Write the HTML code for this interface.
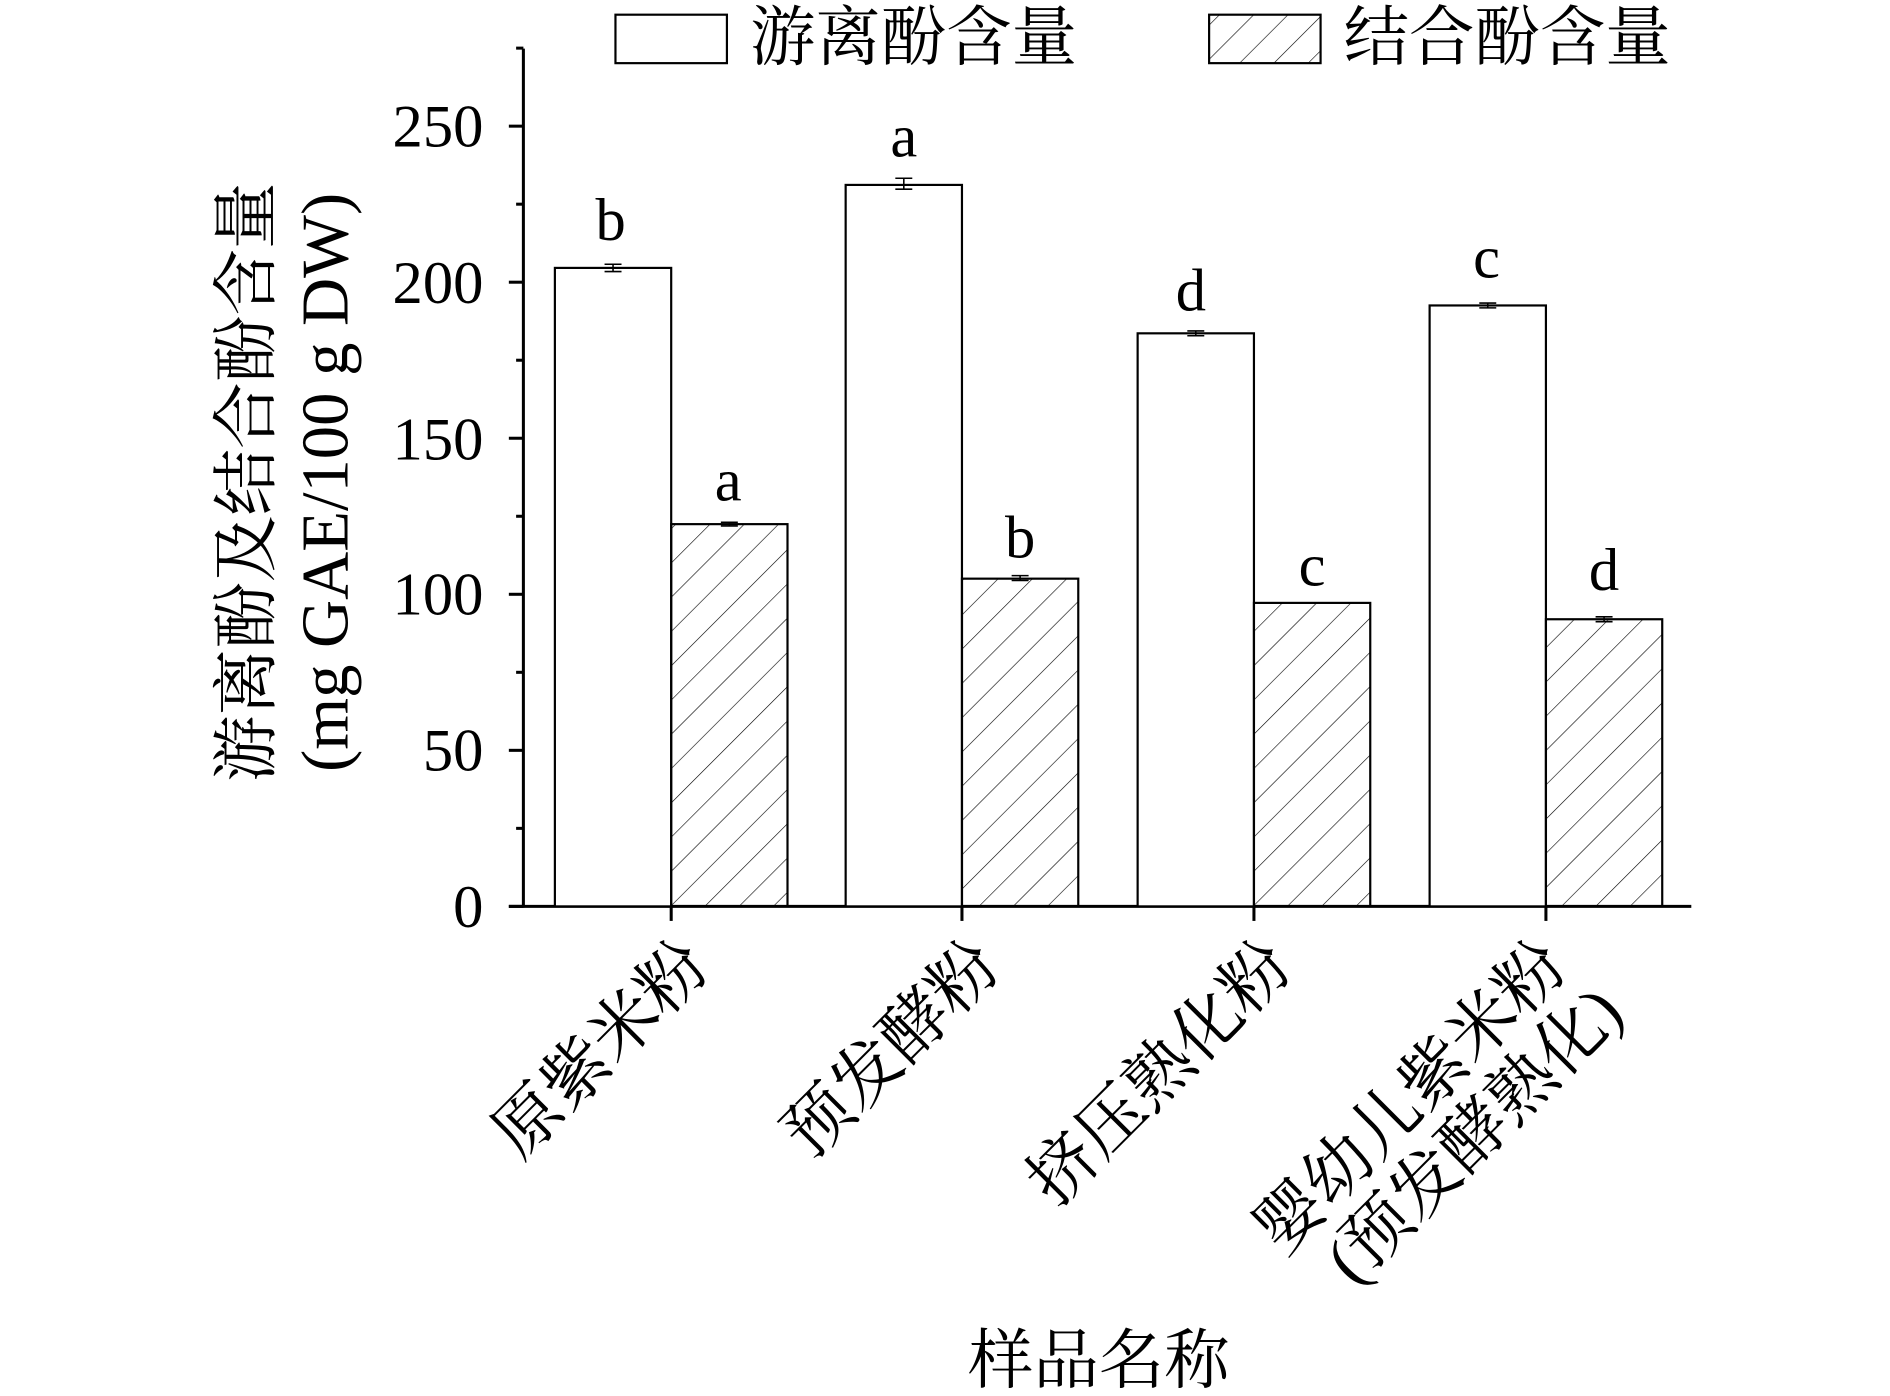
<!DOCTYPE html>
<html><head><meta charset="utf-8"><style>html,body{margin:0;padding:0;background:#fff}svg{display:block}</style></head>
<body>
<svg width="1890" height="1396" viewBox="0 0 1560 1152" xmlns="http://www.w3.org/2000/svg" font-family="Liberation Serif, Noto Serif CJK SC, serif">
<defs>
<pattern id="h" patternUnits="userSpaceOnUse" width="20" height="20" patternTransform="rotate(45)">
<line x1="0" y1="0" x2="0" y2="20" stroke="#000" stroke-width="1"/>
</pattern>
</defs>
<rect width="1560" height="1152" fill="#fff"/>
<g stroke="#000" stroke-width="2.5" fill="none">
<line x1="432" y1="40" x2="432" y2="749"/>
<line x1="420" y1="748" x2="1396" y2="748"/>
<line x1="420" y1="748" x2="432" y2="748"/>
<line x1="420" y1="619.2" x2="432" y2="619.2"/>
<line x1="420" y1="490.4" x2="432" y2="490.4"/>
<line x1="420" y1="361.6" x2="432" y2="361.6"/>
<line x1="420" y1="232.8" x2="432" y2="232.8"/>
<line x1="420" y1="104" x2="432" y2="104"/>
<line x1="426" y1="683.6" x2="432" y2="683.6"/>
<line x1="426" y1="554.8" x2="432" y2="554.8"/>
<line x1="426" y1="426" x2="432" y2="426"/>
<line x1="426" y1="297.2" x2="432" y2="297.2"/>
<line x1="426" y1="168.4" x2="432" y2="168.4"/>
<line x1="426" y1="39.6" x2="432" y2="39.6"/>
<line x1="554" y1="748" x2="554" y2="760"/>
<line x1="794" y1="748" x2="794" y2="760"/>
<line x1="1035" y1="748" x2="1035" y2="760"/>
<line x1="1276" y1="748" x2="1276" y2="760"/>
</g>
<g font-size="50" text-anchor="end">
<text x="399" y="765">0</text>
<text x="399" y="636">50</text>
<text x="399" y="507">100</text>
<text x="399" y="379">150</text>
<text x="399" y="250">200</text>
<text x="399" y="121">250</text>
</g>
<g stroke="#000" stroke-width="1.8">
<rect x="458" y="221" width="96" height="527" fill="#fff"/>
<rect x="554" y="432.5" width="96" height="315.5" fill="url(#h)"/>
<rect x="698" y="152.5" width="96" height="595.5" fill="#fff"/>
<rect x="794" y="477.5" width="96" height="270.5" fill="url(#h)"/>
<rect x="939" y="275" width="96" height="473" fill="#fff"/>
<rect x="1035" y="497.5" width="96" height="250.5" fill="url(#h)"/>
<rect x="1180" y="252" width="96" height="496" fill="#fff"/>
<rect x="1276" y="511" width="96" height="237" fill="url(#h)"/>
</g>
<g stroke="#000" stroke-width="1.3">
<path d="M506 218v6M499 218h14M499 224h14"/>
<path d="M602 431v3M595 431h14M595 434h14"/>
<path d="M746 147v9M739 147h14M739 156h14"/>
<path d="M842 475v4M835 475h14M835 479h14"/>
<path d="M987 273v4M980 273h14M980 277h14"/>
<path d="M1228 250v4M1221 250h14M1221 254h14"/>
<path d="M1324 509v4M1317 509h14M1317 513h14"/>
</g>
<g font-size="50" text-anchor="middle">
<text x="504" y="198">b</text>
<text x="601" y="413">a</text>
<text x="746" y="129">a</text>
<text x="842" y="460">b</text>
<text x="983" y="256">d</text>
<text x="1083" y="483">c</text>
<text x="1227" y="229">c</text>
<text x="1324" y="487">d</text>
</g>
<rect x="508" y="12" width="92" height="40" fill="#fff" stroke="#000" stroke-width="1.8"/>
<text x="619" y="49" font-size="54">游离酚含量</text>
<rect x="998" y="12" width="92" height="40" fill="url(#h)" stroke="#000" stroke-width="1.8"/>
<text x="1109" y="49" font-size="54">结合酚含量</text>
<g font-size="55" text-anchor="middle">
<text transform="translate(222,398) rotate(-90)">游离酚及结合酚含量</text>
<text transform="translate(287,398) rotate(-90)">(mg GAE/100 g DW)</text>
</g>
<g font-size="56" text-anchor="end">
<text transform="translate(588,800) rotate(-45)">原紫米粉</text>
<text transform="translate(828,800) rotate(-45)">预发酵粉</text>
<text transform="translate(1069,800) rotate(-45)">挤压熟化粉</text>
<text transform="translate(1296,800) rotate(-45)">婴幼儿紫米粉</text>
<text transform="translate(1342,838) rotate(-45)">(预发酵熟化)</text>
</g>
<text x="907" y="1141" font-size="54" text-anchor="middle">样品名称</text>
</svg>
</body></html>
